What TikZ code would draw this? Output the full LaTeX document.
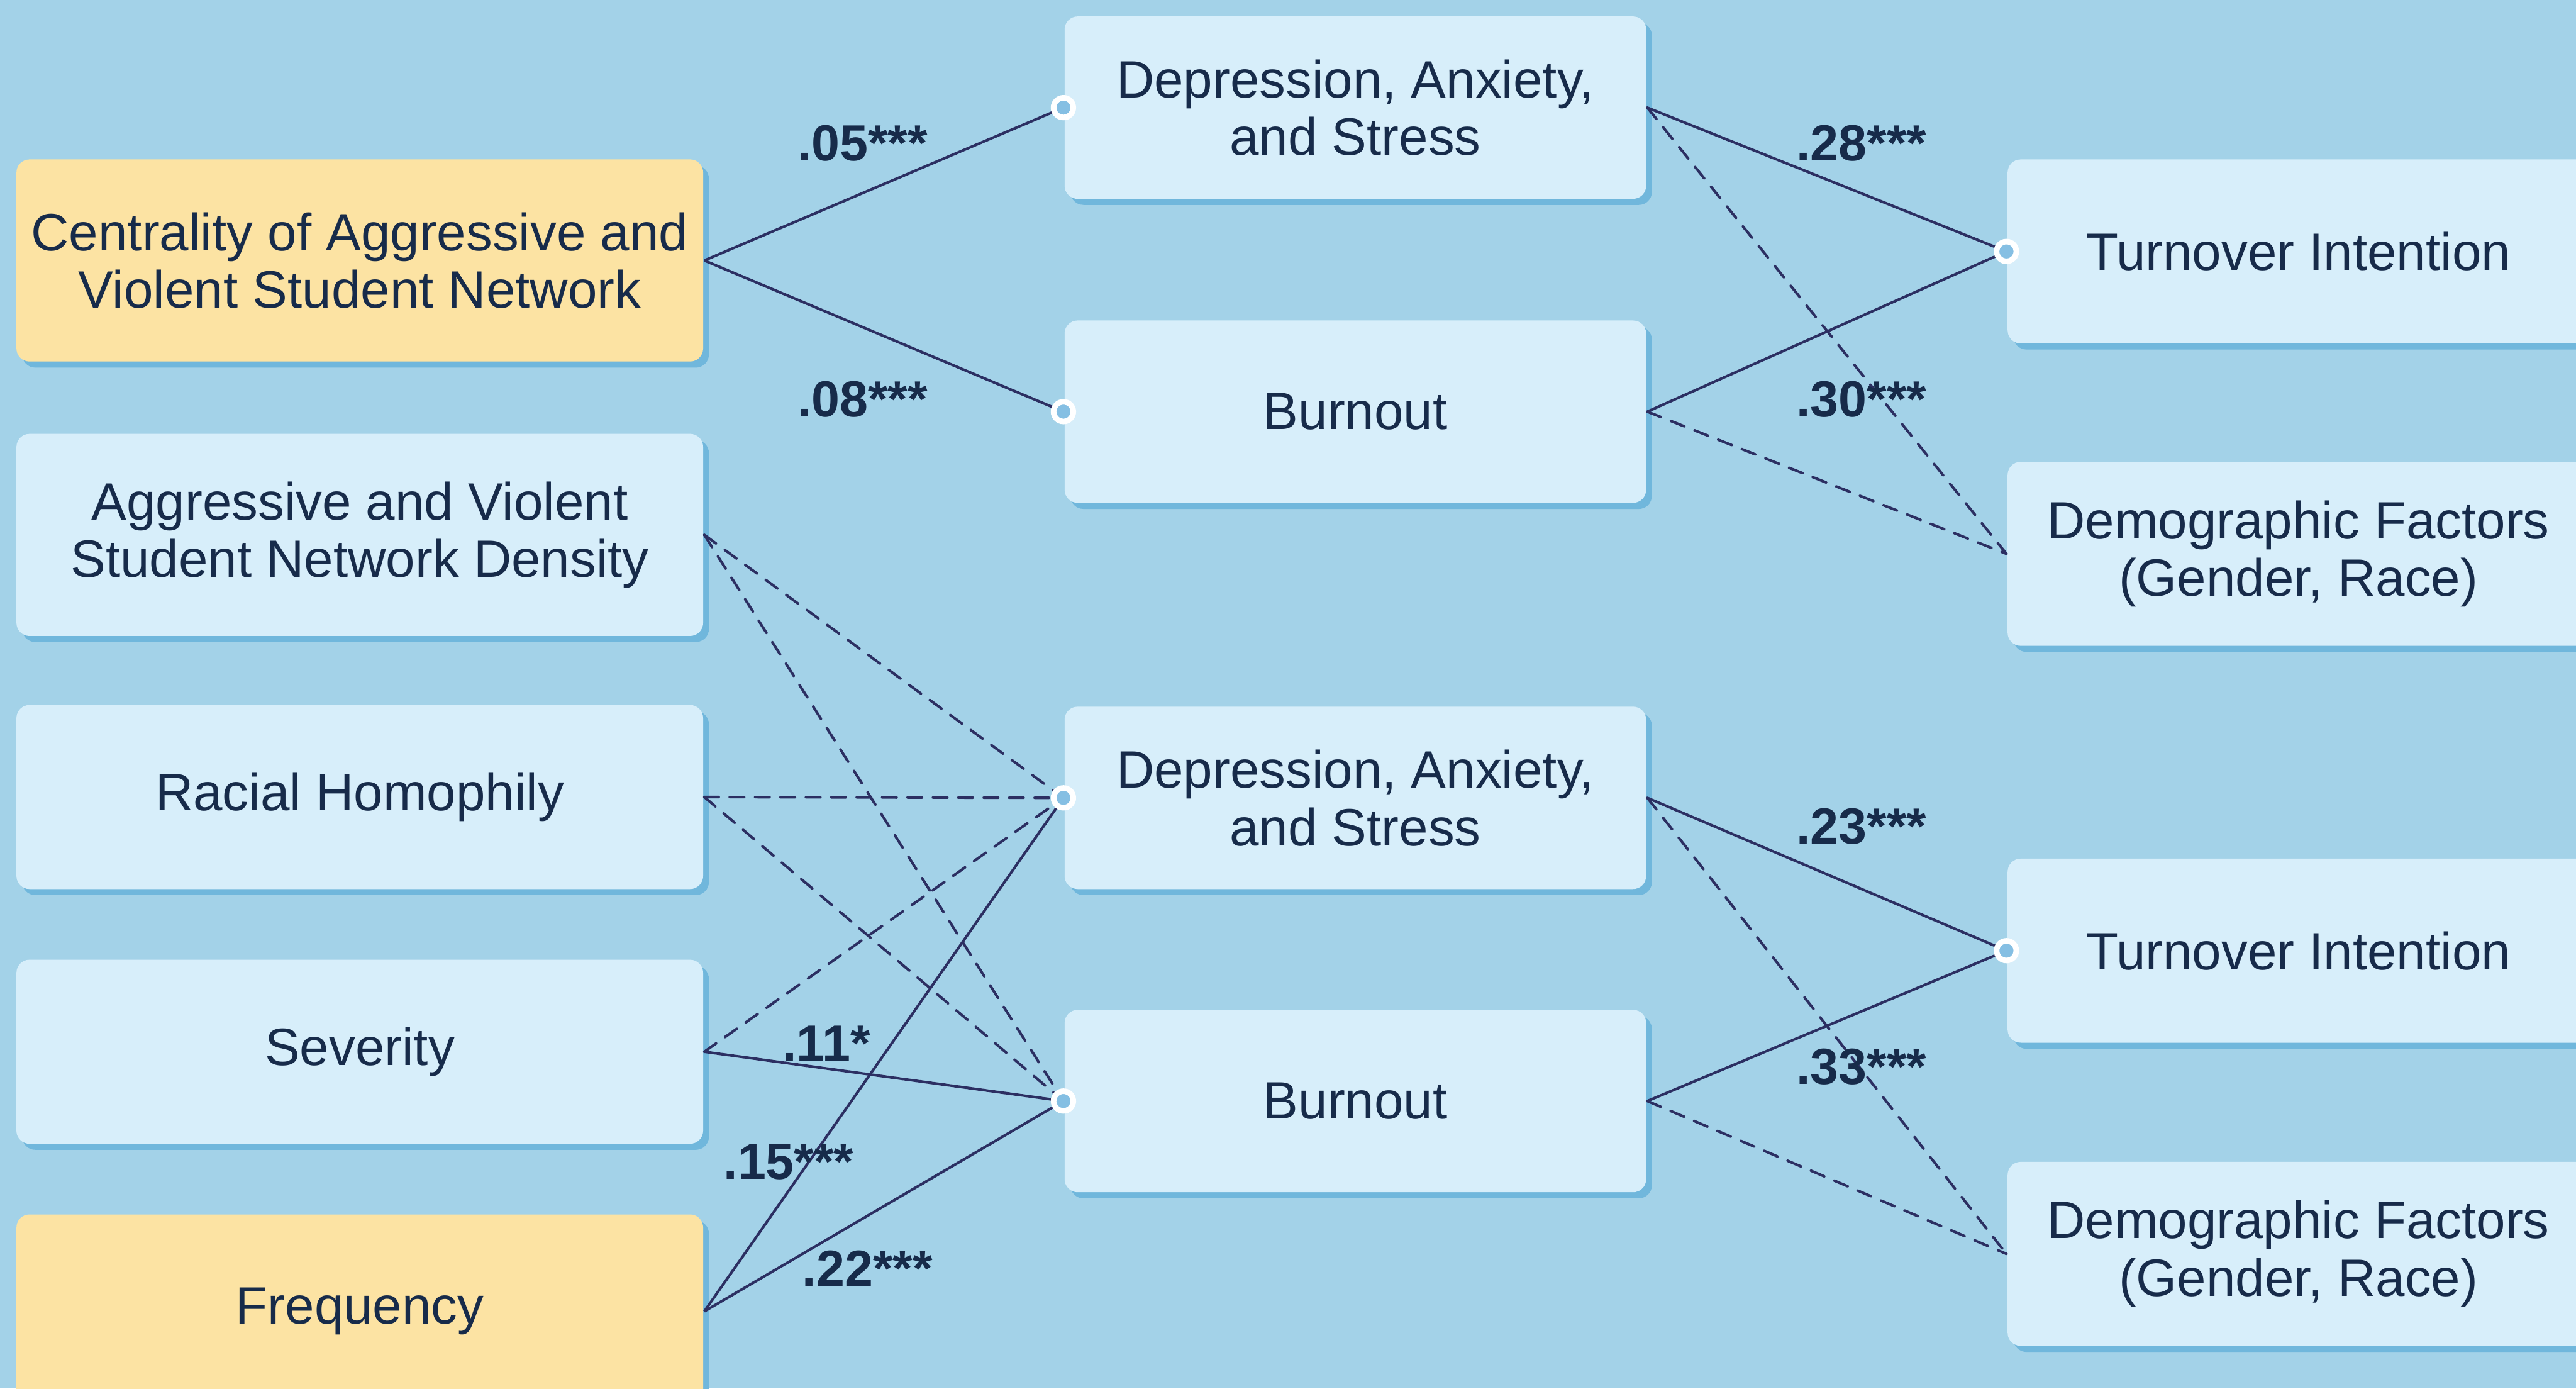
\documentclass[tikz,border=0pt]{standalone}
\usepackage{fontspec}
\setmainfont{Liberation Sans}
\usetikzlibrary{shadows}

\definecolor{bgblue}{HTML}{A3D2E8}
\definecolor{boxblue}{HTML}{D7EEFA}
\definecolor{boxyellow}{HTML}{FCE3A3}
\definecolor{shadowblue}{HTML}{70B7DC}
\definecolor{dotblue}{HTML}{85BFE3}
\definecolor{linkc}{HTML}{2C2F62}
\definecolor{inkc}{HTML}{172B4A}

\begin{document}
\begin{tikzpicture}[
  box/.style={rounded corners=0.8mm, fill=boxblue, inner sep=0pt, align=center,
    text=inkc, font=\fontsize{9.1}{10}\selectfont,
    general shadow={fill=shadowblue, shadow xshift=0.35mm, shadow yshift=-0.37mm}},
  lbox/.style={box, minimum width=4.18cm, minimum height=1.12cm},
  mbox/.style={box, minimum width=3.54cm, minimum height=1.11cm},
  hot/.style={fill=boxyellow},
  port/.style={circle, fill=dotblue, draw=white, line width=0.34mm, minimum size=1.2mm, inner sep=0pt},
  coef/.style={text=inkc, font=\fontsize{8.8}{9}\selectfont\bfseries, inner sep=0pt},
  sig/.style={draw=linkc, line width=0.45pt},
  nsig/.style={sig, dash pattern=on 2.5pt off 1.9pt, line cap=round}
]
  \clip (0,0) rectangle (15.68,-8.45);
  \fill[bgblue] (0,0) rectangle (15.68,-8.45);

  % predictors
  \node[lbox, hot, minimum height=1.23cm] (cent) at (2.19,-1.585) {Centrality of Aggressive and\\Violent Student Network};
  \node[lbox, minimum height=1.23cm] (dens) at (2.19,-3.255) {Aggressive and Violent\\Student Network Density};
  \node[lbox] (homo) at (2.19,-4.85) {Racial Homophily};
  \node[lbox] (sev) at (2.19,-6.40) {Severity};
  \node[lbox, hot, minimum height=1.18cm] (freq) at (2.19,-7.98) {Frequency};

  % mediators
  \node[mbox] (das1) at (8.25,-0.655) {Depression, Anxiety,\\and Stress};
  \node[mbox] (burn1) at (8.25,-2.505) {Burnout};
  \node[mbox] (das2) at (8.25,-4.855) {Depression, Anxiety,\\and Stress};
  \node[mbox] (burn2) at (8.25,-6.70) {Burnout};

  % outcomes
  \node[mbox, minimum height=1.12cm] (turn1) at (13.99,-1.53) {Turnover Intention};
  \node[mbox, minimum height=1.12cm] (demo1) at (13.99,-3.37) {Demographic Factors\\(Gender, Race)};
  \node[mbox, minimum height=1.12cm] (turn2) at (13.99,-5.785) {Turnover Intention};
  \node[mbox, minimum height=1.12cm] (demo2) at (13.99,-7.63) {Demographic Factors\\(Gender, Race)};

  % top model
  \draw[sig] (cent.east) -- (das1.west);
  \draw[sig] (cent.east) -- (burn1.west);
  \draw[sig] (das1.east) -- (turn1.west);
  \draw[sig] (burn1.east) -- (turn1.west);
  \draw[nsig] (das1.east) -- (demo1.west);
  \draw[nsig] (burn1.east) -- (demo1.west);

  % bottom model
  \draw[nsig] (dens.east) -- (das2.west);
  \draw[nsig] (dens.east) -- (burn2.west);
  \draw[nsig] (homo.east) -- (das2.west);
  \draw[nsig] (homo.east) -- (burn2.west);
  \draw[nsig] (sev.east) -- (das2.west);
  \draw[sig] (sev.east) -- (burn2.west);
  \draw[sig] (freq.east) -- (das2.west);
  \draw[sig] (freq.east) -- (burn2.west);
  \draw[sig] (das2.east) -- (turn2.west);
  \draw[sig] (burn2.east) -- (turn2.west);
  \draw[nsig] (das2.east) -- (demo2.west);
  \draw[nsig] (burn2.east) -- (demo2.west);

  \node[port] (pdas1) at (das1.west) {};
  \node[port] (pburn1) at (burn1.west) {};
  \node[port] (pdas2) at (das2.west) {};
  \node[port] (pburn2) at (burn2.west) {};
  \node[port] (pturn1) at (turn1.west) {};
  \node[port] (pturn2) at (turn2.west) {};

  % coefficients
  \node[coef] (c05) at (5.25,-0.87) {.05***};
  \node[coef] (c08) at (5.25,-2.43) {.08***};
  \node[coef] (c28) at (11.33,-0.87) {.28***};
  \node[coef] (c30) at (11.33,-2.43) {.30***};
  \node[coef] (c11) at (5.03,-6.35) {.11*};
  \node[coef] (c15) at (4.80,-7.07) {.15***};
  \node[coef] (c22) at (5.28,-7.72) {.22***};
  \node[coef] (c23) at (11.33,-5.03) {.23***};
  \node[coef] (c33) at (11.33,-6.49) {.33***};
\end{tikzpicture}
\end{document}
